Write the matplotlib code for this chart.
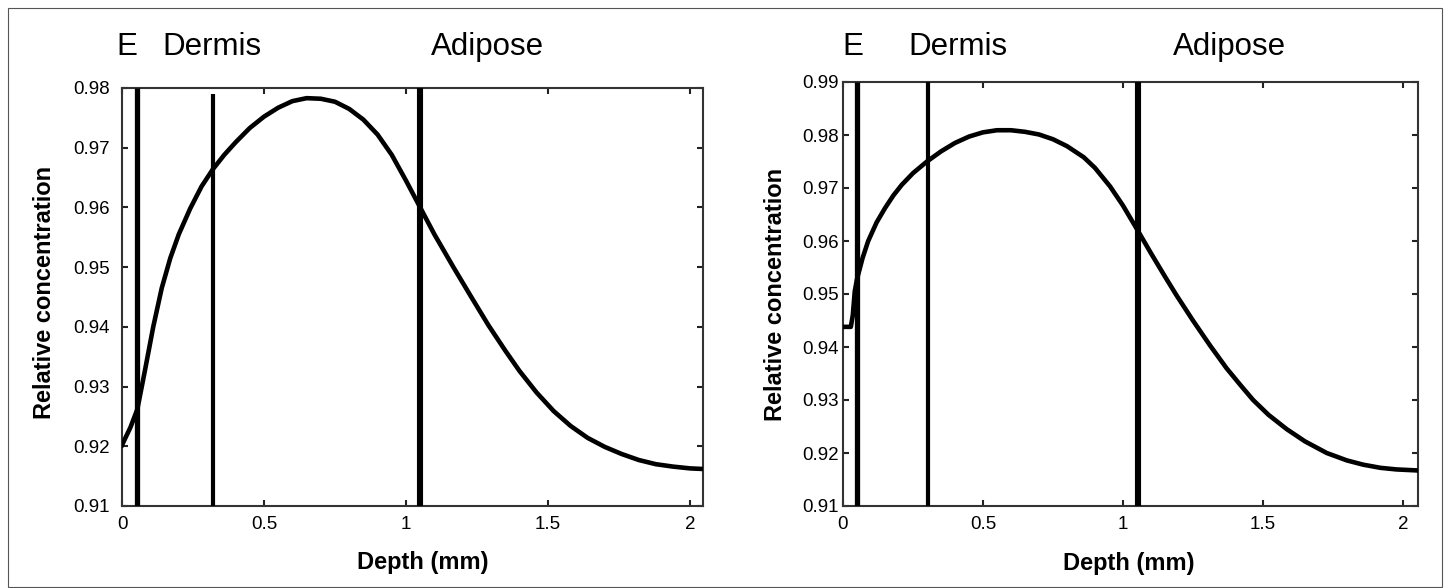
import matplotlib
matplotlib.use('Agg')
import matplotlib.pyplot as plt
from matplotlib.patches import Rectangle

plt.rcParams.update({
    'font.family': ['Liberation Sans', 'DejaVu Sans'],
    'font.size': 14,
    'axes.linewidth': 1.5,
    'axes.edgecolor': '#333333',
})

# --- Data (depth in mm, relative concentration) ---
depth_left = [0.0, 0.03, 0.054, 0.08, 0.11, 0.14, 0.17, 0.20, 0.24, 0.28,
              0.32, 0.36, 0.40, 0.45, 0.50, 0.55, 0.60, 0.65, 0.70, 0.75,
              0.80, 0.85, 0.90, 0.95, 1.00, 1.05, 1.10, 1.167, 1.23, 1.29,
              1.35, 1.40, 1.46, 1.52, 1.58, 1.64, 1.70, 1.76, 1.82, 1.88,
              1.94, 2.00, 2.046]
conc_left = [0.9202, 0.9232, 0.9262, 0.9325, 0.9400, 0.9465, 0.9515, 0.9555, 0.9598, 0.9635,
             0.9664, 0.9688, 0.9709, 0.9733, 0.9752, 0.9767, 0.9778, 0.9783, 0.9782, 0.9777,
             0.9765, 0.9747, 0.9722, 0.9688, 0.9645, 0.9600, 0.9555, 0.9500, 0.9450, 0.9403,
             0.9360, 0.9326, 0.9290, 0.9259, 0.9234, 0.9214, 0.9199, 0.9187, 0.9177, 0.9170,
             0.9166, 0.9163, 0.9162]

depth_right = [0.0, 0.028, 0.035, 0.042, 0.05, 0.07, 0.09, 0.12, 0.15, 0.18,
               0.21, 0.25, 0.30, 0.35, 0.40, 0.45, 0.50, 0.55, 0.60, 0.65,
               0.70, 0.75, 0.80, 0.86, 0.90, 0.954, 1.00, 1.056, 1.10, 1.15,
               1.192, 1.25, 1.311, 1.37, 1.42, 1.465, 1.52, 1.585, 1.65, 1.728,
               1.80, 1.858, 1.92, 1.977, 2.055]
conc_right = [0.9438, 0.9438, 0.9460, 0.9505, 0.9528, 0.9568, 0.9600, 0.9635, 0.9662, 0.9686,
              0.9706, 0.9728, 0.9750, 0.9769, 0.9785, 0.9797, 0.9805, 0.9809, 0.9809, 0.9806,
              0.9801, 0.9792, 0.9779, 0.9758, 0.9738, 0.9703, 0.9667, 0.9617, 0.9577, 0.9533,
              0.9497, 0.9450, 0.9403, 0.9360, 0.9328, 0.9300, 0.9272, 0.9245, 0.9222, 0.9200,
              0.9186, 0.9178, 0.9172, 0.9169, 0.9167]

# layer boundaries (mm) and their top ends
bounds_left = [0.054, 0.321, 1.049]
bound_tops_left = [0.98, 0.979, 0.98]
bounds_right = [0.05, 0.302, 1.053]
bound_tops_right = [0.99, 0.99, 0.99]
bound_widths = [3.8, 3.0, 4.4]

xticks = [0, 0.5, 1, 1.5, 2]
xtick_labels = ['0', '0.5', '1', '1.5', '2']
yticks_left = [0.91, 0.92, 0.93, 0.94, 0.95, 0.96, 0.97, 0.98]
yticks_right = [0.91, 0.92, 0.93, 0.94, 0.95, 0.96, 0.97, 0.98, 0.99]

W, H = 1448, 588
fig = plt.figure(figsize=(W / 100, H / 100), dpi=100)
fig.patch.set_facecolor('white')

# thin frame round the whole figure
fig.patches.append(Rectangle((8 / W, 1 / H), 1434 / W, 579 / H, transform=fig.transFigure,
                             fill=False, edgecolor='#555555', linewidth=0.8))

ax_l = fig.add_axes([122 / W, 1 - 506 / H, 581 / W, 418 / H])
ax_r = fig.add_axes([843 / W, 1 - 506 / H, 575 / W, 424 / H])


def style_axes(ax, depth, conc, bounds, tops, xlim, ylim, yticks, ypad, xlab_x, ylab_x, ylab_y):
    ax.plot(depth, conc, color='black', linewidth=3.3, solid_joinstyle='round', zorder=3)
    for b, t, w in zip(bounds, tops, bound_widths):
        ax.plot([b, b], [ylim[0], t], color='black', linewidth=w, solid_capstyle='butt', zorder=4)
    ax.set_xlim(*xlim)
    ax.set_ylim(*ylim)
    ax.set_xticks(xticks)
    ax.set_xticklabels(xtick_labels)
    ax.set_yticks(yticks)
    ax.set_yticklabels([f'{v:.2f}' for v in yticks])
    ax.tick_params(direction='in', length=4, width=1.5, color='#222222',
                   top=True, right=True, labelsize=13.5)
    ax.tick_params(axis='y', pad=ypad)
    ax.tick_params(axis='x', pad=7)
    ax.set_xlabel('Depth (mm)', fontsize=17, fontweight='bold')
    ax.xaxis.label.set_va('center')
    ax.xaxis.set_label_coords(xlab_x, -0.136)
    ax.set_ylabel('Relative concentration', fontsize=17, fontweight='bold')
    ax.yaxis.label.set_va('center')
    ax.yaxis.set_label_coords(ylab_x, ylab_y)


style_axes(ax_l, depth_left, conc_left, bounds_left, bound_tops_left,
           (0, 2.046), (0.91, 0.98), yticks_left, 9, 0.518, -0.134, 0.51)
style_axes(ax_r, depth_right, conc_right, bounds_right, bound_tops_right,
           (0, 2.054), (0.91, 0.99), yticks_right, 3, 0.497, -0.118, 0.50)

# panel headings
base_y = 1 - 55 / H
for x_px, txt in [(116, 'E'), (162, 'Dermis'), (431, 'Adipose'),
                  (842, 'E'), (908, 'Dermis'), (1173, 'Adipose')]:
    fig.text(x_px / W, base_y, txt, fontsize=22.5, ha='left', va='baseline')

plt.savefig('out.png', dpi=100)
plt.close()
